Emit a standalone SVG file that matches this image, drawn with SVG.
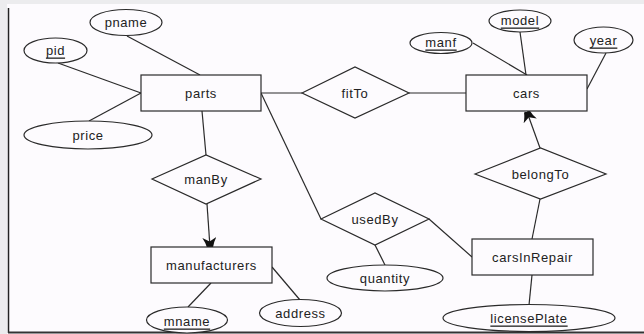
<svg xmlns="http://www.w3.org/2000/svg" width="644" height="334" viewBox="0 0 644 334">
<style>
.s{fill:#fdfbfe;stroke:#2a2a2a;stroke-width:1.2}
.l{fill:none;stroke:#2a2a2a;stroke-width:1.2}
text{font-family:"Liberation Sans","DejaVu Sans",sans-serif;font-size:13px;letter-spacing:0.6px;fill:#222;text-anchor:middle;dominant-baseline:central}
.u{text-decoration:underline}
</style>
<defs>
<marker id="ah" viewBox="0 0 10 14" refX="9.5" refY="7" markerWidth="10" markerHeight="14" markerUnits="userSpaceOnUse" orient="auto">
<path d="M0,0 Q5,3 10,4 L10,10 Q5,11 0,14 L4,7 z" fill="#111"/>
</marker>
</defs>
<rect x="0" y="0" width="644" height="334" fill="#fdfbfe"/>
<rect x="0" y="0" width="644" height="4" fill="#ececee"/>
<rect x="0" y="0" width="7" height="334" fill="#ececee"/>
<line x1="8.5" y1="8" x2="8.5" y2="333" stroke="#222" stroke-width="1.5"/>
<line x1="8" y1="332.5" x2="644" y2="332.5" stroke="#333" stroke-width="2"/>
<g id="connectors">
<line class="l" x1="127" y1="36" x2="200" y2="75"/>
<line class="l" x1="58" y1="63" x2="141" y2="93"/>
<line class="l" x1="89" y1="121" x2="141" y2="93"/>
<line class="l" x1="261" y1="93" x2="302" y2="93"/>
<line class="l" x1="409" y1="93" x2="466" y2="93"/>
<line class="l" x1="473" y1="43" x2="527" y2="75"/>
<line class="l" x1="520" y1="32" x2="526" y2="75"/>
<line class="l" x1="606" y1="53" x2="587" y2="89"/>
<line class="l" x1="540" y1="148" x2="527" y2="112" marker-end="url(#ah)"/>
<line class="l" x1="202" y1="111" x2="206" y2="155"/>
<line class="l" x1="207" y1="204" x2="210" y2="247" marker-end="url(#ah)"/>
<line class="l" x1="261" y1="93" x2="321" y2="219"/>
<line class="l" x1="429" y1="219" x2="472" y2="257"/>
<line class="l" x1="375" y1="245" x2="385" y2="265"/>
<line class="l" x1="540" y1="199" x2="532" y2="239"/>
<line class="l" x1="532" y1="275" x2="529" y2="305"/>
<line class="l" x1="211" y1="283" x2="188" y2="307"/>
<line class="l" x1="272" y1="267" x2="300" y2="300"/>
</g>
<g id="pname"><ellipse class="s" cx="126" cy="22.5" rx="36" ry="13"/><text x="126" y="22">pname</text></g>
<g id="pid"><ellipse class="s" cx="55.5" cy="50.5" rx="31.5" ry="12.5"/><text class="u" x="55.5" y="50">pid</text></g>
<g id="price"><ellipse class="s" cx="88" cy="135" rx="64" ry="14"/><text x="88" y="135">price</text></g>
<g id="parts"><rect class="s" x="141" y="75" width="120" height="36"/><text x="201" y="93">parts</text></g>
<g id="fitTo"><polygon class="s" points="302,93 355,67 409,93 355,118"/><text x="355" y="93">fitTo</text></g>
<g id="cars"><rect class="s" x="466" y="75" width="121" height="36"/><text x="526.5" y="93">cars</text></g>
<g id="manf"><ellipse class="s" cx="441" cy="43" rx="31" ry="10.5"/><text class="u" x="441" y="42">manf</text></g>
<g id="model"><ellipse class="s" cx="520" cy="21" rx="31" ry="11"/><text class="u" x="520" y="20">model</text></g>
<g id="year"><ellipse class="s" cx="603.5" cy="40" rx="29.5" ry="13"/><text class="u" x="603.5" y="40">year</text></g>
<g id="belongTo"><polygon class="s" points="475,174 540.5,148 606,174 540.5,199"/><text x="540.5" y="174">belongTo</text></g>
<g id="manBy"><polygon class="s" points="152,179 206,155 261,179 206,204"/><text x="206" y="179">manBy</text></g>
<g id="usedBy"><polygon class="s" points="321,219 375,193 429,219 375,245"/><text x="375" y="219">usedBy</text></g>
<g id="carsInRepair"><rect class="s" x="472" y="239" width="121" height="36"/><text x="532.5" y="257">carsInRepair</text></g>
<g id="manufacturers"><rect class="s" x="151" y="247" width="121" height="36"/><text x="211.5" y="265.5">manufacturers</text></g>
<g id="quantity"><ellipse class="s" cx="385" cy="278" rx="58" ry="13"/><text x="385" y="278">quantity</text></g>
<g id="mname"><ellipse class="s" cx="187" cy="320" rx="40.5" ry="13"/><text class="u" x="187" y="321">mname</text></g>
<g id="address"><ellipse class="s" cx="300.5" cy="313" rx="41" ry="13.5"/><text x="300.5" y="313">address</text></g>
<g id="licensePlate"><ellipse class="s" cx="529" cy="318" rx="86" ry="13.5"/><text class="u" x="529" y="318">licensePlate</text></g>
</svg>
